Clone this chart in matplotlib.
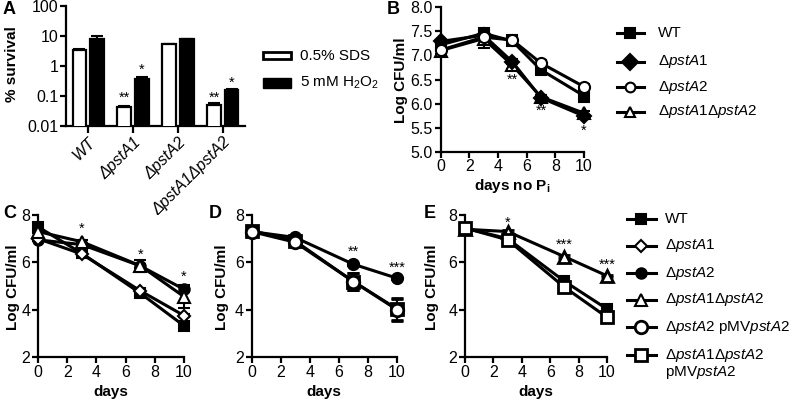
import matplotlib
matplotlib.use('Agg')
import matplotlib.pyplot as plt
from matplotlib.lines import Line2D
from matplotlib.patches import Rectangle

plt.rcParams['font.family'] = ['Liberation Sans', 'DejaVu Sans']
plt.rcParams['mathtext.fontset'] = 'custom'
plt.rcParams['mathtext.rm'] = 'Liberation Sans'
plt.rcParams['mathtext.it'] = 'Liberation Sans:italic'
plt.rcParams['mathtext.bf'] = 'Liberation Sans:bold'

# ---------------- data ----------------
strainsA = ['WT', 'ΔpstA1', 'ΔpstA2', 'ΔpstA1ΔpstA2']
sds = [3.3, 0.043, 5.2, 0.049]
sds_err = [0.25, 0.004, 0.25, 0.007]
h2o2 = [7.6, 0.36, 7.7, 0.16]
h2o2_err = [2.4, 0.06, 0.4, 0.01]
starsA_sds = ['', '**', '', '**']
starsA_h2o2 = ['', '*', '', '*']
starsA_sds_y = [None, 0.085, None, 0.085]
starsA_h2o2_y = [None, 0.72, None, 0.27]

daysB = [0, 3, 5, 7, 10]
B_WT = [7.22, 7.46, 7.30, 6.70, 6.16]
B_WT_err = [0.05, 0.05, 0.05, 0.07, 0.12]
B_A1 = [7.29, 7.42, 6.87, 6.12, 5.74]
B_A1_err = [0.03, 0.03, 0.05, 0.04, 0.03]
B_A2 = [7.11, 7.38, 7.32, 6.84, 6.35]
B_A2_err = [0.08, 0.05, 0.11, 0.07, 0.05]
B_A1A2 = [7.10, 7.35, 6.80, 6.14, 5.80]
B_A1A2_err = [0.08, 0.19, 0.08, 0.04, 0.04]
starsB_x = [5, 7, 10]
starsB_y = [6.50, 5.85, 5.43]
starsB = ['**', '**', '*']

daysC = [0, 3, 7, 10]
C_WT = [7.50, 6.38, 4.70, 3.32]
C_WT_err = [0.05, 0.05, 0.06, 0.08]
C_A1 = [7.00, 6.35, 4.80, 3.75]
C_A1_err = [0.05, 0.05, 0.05, 0.08]
C_A2 = [6.95, 6.75, 5.85, 4.86]
C_A2_err = [0.05, 0.05, 0.25, 0.10]
C_A1A2 = [7.30, 6.87, 5.86, 4.55]
C_A1A2_err = [0.08, 0.08, 0.08, 0.50]
starsC_x = [3, 7, 10]
starsC_y = [7.40, 6.30, 5.40]
starsC = ['*', '*', '*']

daysD = [0, 3, 7, 10]
D_A2 = [7.30, 7.05, 5.92, 5.33]
D_A2_err = [0.05, 0.05, 0.08, 0.08]
D_A2pMV = [7.30, 6.85, 5.19, 4.00]
D_A2pMV_err = [0.05, 0.05, 0.34, 0.47]
D_A1A2pMV = [7.34, 6.90, 5.19, 4.03]
D_A1A2pMV_err = [0.05, 0.05, 0.34, 0.47]
starsD_x = [7, 10]
starsD_y = [6.43, 5.76]
starsD = ['**', '***']

daysE = [0, 3, 7, 10]
E_WT = [7.45, 7.00, 5.20, 4.03]
E_WT_err = [0.05, 0.05, 0.06, 0.06]
E_A1A2 = [7.40, 7.30, 6.24, 5.43]
E_A1A2_err = [0.05, 0.05, 0.05, 0.05]
E_A1A2pMV = [7.45, 6.95, 4.95, 3.68]
E_A1A2pMV_err = [0.05, 0.05, 0.06, 0.06]
starsE_x = [3, 7, 10]
starsE_y = [7.66, 6.73, 5.90]
starsE = ['*', '***', '***']

# ---------------- layout helpers ----------------
W, H = 789, 400
fig = plt.figure(figsize=(7.89, 4.0), dpi=100)


def rect(l, t, r, b):
    return [l / W, 1 - b / H, (r - l) / W, (b - t) / H]


SPW = 1.6
TICKFS = 11.5
LABFS = 11
LEGFS = 11
STARFS = 10.5


def style(ax):
    for s in ['top', 'right']:
        ax.spines[s].set_visible(False)
    for s in ['left', 'bottom']:
        ax.spines[s].set_linewidth(SPW)
    ax.tick_params(direction='out', length=4, width=SPW, labelsize=TICKFS, pad=1.5)


# ---------------- Panel A ----------------
axA = fig.add_axes(rect(66, 6, 245, 125.7))
style(axA)
axA.set_yscale('log')
axA.set_ylim(0.01, 100)
axA.set_xlim(-0.49, 3.49)
xs = list(range(len(strainsA)))
bw = 0.31
off = 0.19
axA.bar([x - off for x in xs], sds, width=bw, color='white', edgecolor='black', linewidth=1.6, zorder=3)
axA.bar([x + off for x in xs], h2o2, width=bw, color='black', edgecolor='black', linewidth=1.6, zorder=3)
axA.errorbar([x - off for x in xs], sds, yerr=[[0] * 4, sds_err], fmt='none', ecolor='black',
             elinewidth=1.5, capsize=4, capthick=1.5, zorder=2)
axA.errorbar([x + off for x in xs], h2o2, yerr=[[0] * 4, h2o2_err], fmt='none', ecolor='black',
             elinewidth=1.5, capsize=4, capthick=1.5, zorder=2)
for x, s, yy in zip(xs, starsA_sds, starsA_sds_y):
    if s:
        axA.text(x - off, yy, s, ha='center', va='center', fontsize=STARFS)
for x, s, yy in zip(xs, starsA_h2o2, starsA_h2o2_y):
    if s:
        axA.text(x + off, yy, s, ha='center', va='center', fontsize=STARFS)
axA.set_yticks([0.01, 0.1, 1, 10, 100])
axA.set_yticklabels(['0.01', '0.1', '1', '10', '100'])
axA.minorticks_off()
axA.set_xticks(xs)
axA.set_xticklabels(strainsA, rotation=45, ha='right', rotation_mode='anchor',
                    fontstyle='italic', fontsize=TICKFS)
axA.tick_params(axis='x', length=5)
fig.text(12 / W, 1 - 64 / H, '% survival', rotation=90, ha='center', va='center',
         fontsize=LABFS, fontweight='bold')
fig.text(9 / W, 1 - 10 / H, 'A', ha='center', va='center', fontsize=13, fontweight='bold')

# ---------------- Panel B ----------------
axB = fig.add_axes(rect(440.5, 7.3, 584, 151.7))
style(axB)
axB.set_xlim(0, 10)
axB.set_ylim(5.0, 8.0)
axB.set_xticks([0, 2, 4, 6, 8, 10])
axB.set_yticks([5.0, 5.5, 6.0, 6.5, 7.0, 7.5, 8.0])
axB.set_yticklabels(['5.0', '5.5', '6.0', '6.5', '7.0', '7.5', '8.0'])
LW = 2.2
kw = dict(color='black', lw=LW, clip_on=False, capsize=4, elinewidth=1.5, capthick=1.5,
          markeredgecolor='black', markeredgewidth=1.5)
axB.errorbar(daysB, B_A1A2, yerr=B_A1A2_err, marker='^', ms=8, mfc='white', zorder=3, **kw)
axB.errorbar(daysB, B_WT, yerr=B_WT_err, marker='s', ms=7, mfc='black', zorder=4, **kw)
axB.errorbar(daysB, B_A1, yerr=B_A1_err, marker='D', ms=7.5, mfc='black', zorder=5, **kw)
axB.errorbar(daysB, B_A2, yerr=B_A2_err, marker='o', ms=8, mfc='white', zorder=6, **kw)
for x, y, s in zip(starsB_x, starsB_y, starsB):
    axB.text(x, y, s, ha='center', va='center', fontsize=STARFS)
fig.text(401 / W, 1 - 80 / H, 'Log CFU/ml', rotation=90, ha='center', va='center',
         fontsize=LABFS, fontweight='bold')
axB.set_xlabel(r'days no P$_\mathbf{i}$', fontsize=LABFS, fontweight='bold', labelpad=2)
fig.text(393 / W, 1 - 10 / H, 'B', ha='center', va='center', fontsize=13, fontweight='bold')

# ---------------- Panels C, D, E ----------------
axC = fig.add_axes(rect(38, 215, 184, 357))
axD = fig.add_axes(rect(251.5, 215, 397, 357))
axE = fig.add_axes(rect(465, 215, 607, 357))
for ax, lab, lx, yl in [(axC, 'C', 10, 13), (axD, 'D', 215, 222), (axE, 'E', 430, 432)]:
    style(ax)
    ax.set_xlim(0, 10)
    ax.set_ylim(2, 8)
    ax.set_xticks([0, 2, 4, 6, 8, 10])
    ax.set_yticks([2, 4, 6, 8])
    ax.set_xlabel('days', fontsize=LABFS, fontweight='bold', labelpad=4)
    fig.text(yl / W, 1 - 287 / H, 'Log CFU/ml', rotation=90, ha='center', va='center',
             fontsize=LABFS, fontweight='bold')
    fig.text(lx / W, 1 - 214 / H, lab, ha='center', va='center', fontsize=13, fontweight='bold')

# C
axC.errorbar(daysC, C_WT, yerr=C_WT_err, marker='s', ms=7, mfc='black', zorder=3, **kw)
axC.errorbar(daysC, C_A1, yerr=C_A1_err, marker='D', ms=6, mfc='white', zorder=4, **kw)
axC.errorbar(daysC, C_A2, yerr=C_A2_err, marker='o', ms=7.5, mfc='black', zorder=3, **kw)
axC.errorbar(daysC, C_A1A2, yerr=C_A1A2_err, marker='^', ms=8.5, mfc='white', zorder=5, **kw)
for x, y, s in zip(starsC_x, starsC_y, starsC):
    axC.text(x, y, s, ha='center', va='center', fontsize=STARFS)

# D
kw2 = dict(kw)
kw2['markeredgewidth'] = 2
axD.errorbar(daysD, D_A2, yerr=D_A2_err, marker='o', ms=8, mfc='black', zorder=3, **kw)
axD.errorbar(daysD, D_A1A2pMV, yerr=D_A1A2pMV_err, marker='s', ms=9, mfc='white', zorder=4, **kw2)
axD.errorbar(daysD, D_A2pMV, yerr=D_A2pMV_err, marker='o', ms=9, mfc='white', zorder=5, **kw2)
for x, y, s in zip(starsD_x, starsD_y, starsD):
    axD.text(x, y, s, ha='center', va='center', fontsize=STARFS)

# E
axE.errorbar(daysE, E_WT, yerr=E_WT_err, marker='s', ms=7.5, mfc='black', zorder=3, **kw)
axE.errorbar(daysE, E_A1A2, yerr=E_A1A2_err, marker='^', ms=9, mfc='white', zorder=4, **kw2)
axE.errorbar(daysE, E_A1A2pMV, yerr=E_A1A2pMV_err, marker='s', ms=9, mfc='white', zorder=5, **kw2)
for x, y, s in zip(starsE_x, starsE_y, starsE):
    axE.text(x, y, s, ha='center', va='center', fontsize=STARFS)

# ---------------- legends (overlay axes in pixel coords) ----------------
lg = fig.add_axes([0, 0, 1, 1])
lg.set_xlim(0, W)
lg.set_ylim(H, 0)
lg.axis('off')

# legend A
lg.add_patch(Rectangle((263, 52), 28, 7, facecolor='white', edgecolor='black', lw=2))
lg.add_patch(Rectangle((263, 78), 28, 10, facecolor='black', edgecolor='black', lw=1))
lg.text(300, 56, '0.5% SDS', ha='left', va='center', fontsize=LEGFS)
lg.text(300, 83, r'5 mM H$_2$O$_2$', ha='left', va='center', fontsize=LEGFS)

# legend B
legB = [('WT', 's', 'black', 6.5), (r'$\mathit{ΔpstA1}$', 'D', 'black', 8),
        (r'$\mathit{ΔpstA2}$', 'o', 'white', 7), (r'$\mathit{ΔpstA1ΔpstA2}$', '^', 'white', 7)]
ysB = [33, 62, 87, 112]
for (txt, m, fc, ms), y in zip(legB, ysB):
    lg.add_line(Line2D([617, 644], [y, y], color='black', lw=2.2, marker=None))
    lg.add_line(Line2D([630.5], [y], color='black', marker=m, ms=ms, mfc=fc, mec='black', mew=1.5))
    lg.text(658, y, txt, ha='left', va='center', fontsize=LEGFS)

# legend CDE
legC = [('WT', 's', 'black', 7, 1.5), (r'$\mathit{ΔpstA1}$', 'D', 'white', 6, 1.5),
        (r'$\mathit{ΔpstA2}$', 'o', 'black', 7.5, 1.5), (r'$\mathit{ΔpstA1ΔpstA2}$', '^', 'white', 8, 1.5),
        (r'$\mathit{ΔpstA2}$ pMV$\mathit{pstA2}$', 'o', 'white', 9, 2),
        ('$\\mathit{ΔpstA1ΔpstA2}$\npMV$\\mathit{pstA2}$', 's', 'white', 9, 2)]
ysC = [219, 246, 273, 300, 327, 355]
for (txt, m, fc, ms, mew), y in zip(legC, ysC):
    lg.add_line(Line2D([627, 656], [y, y], color='black', lw=2.2))
    lg.add_line(Line2D([641.5], [y], color='black', marker=m, ms=ms, mfc=fc, mec='black', mew=mew))
    if '\n' in txt:
        lg.text(665, y - 8, txt, ha='left', va='top', fontsize=LEGFS, linespacing=1.0)
    else:
        lg.text(665, y, txt, ha='left', va='center', fontsize=LEGFS)

fig.savefig('out.png', dpi=100)
